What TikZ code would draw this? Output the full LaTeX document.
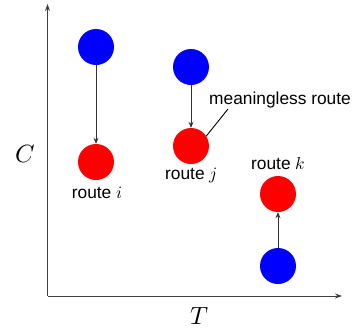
\documentclass[tikz,border=0pt]{standalone}
\usepackage{fontspec}
\setmainfont{Liberation Sans}
\usepackage{unicode-math}
\setmathfont{Latin Modern Math}
\usetikzlibrary{arrows.meta}
\begin{document}
\begin{tikzpicture}[x=1bp,y=-1bp,
  dot/.style={circle,minimum size=36bp,inner sep=0pt},
  bdot/.style={dot,fill=blue},
  rdot/.style={dot,fill=red},
  lab/.style={font=\fontsize{17.4}{20}\selectfont,inner sep=0pt},
  axlab/.style={font=\fontsize{25}{28}\selectfont,inner sep=0pt},
  conn/.style={draw=black!80,line width=0.9bp,-{Stealth[length=6bp,width=5bp]}},
  axis/.style={draw=black!75,line width=1bp,-{Stealth[length=7bp,width=5bp]}}]
\useasboundingbox (0,0) rectangle (356,329);
\coordinate (o) at (47.5,296);
\coordinate (ytop) at (47.5,4);
\coordinate (xend) at (342,296);
\draw[axis] (o) -- (ytop);
\draw[axis] (o) -- (xend);
\node[axlab] (C) at (25,154) {$C$};
\node[axlab] (T) at (200,316) {$T$};
\node[bdot] (bi) at (96,47) {};
\node[rdot] (ri) at (96,162) {};
\node[bdot] (bj) at (191,67) {};
\node[rdot] (rj) at (191,146) {};
\node[rdot] (rk) at (278,194) {};
\node[bdot] (bk) at (278,266) {};
\draw[conn] (bi) -- (ri);
\draw[conn] (bj) -- (rj);
\draw[conn] (bk) -- (rk);
\node[lab] (li) at (97,193) {route $i$};
\node[lab] (lj) at (191,176) {route $j$};
\node[lab] (lk) at (278,164) {route $k$};
\node[lab] (lm) at (280,100) {meaningless route};
\coordinate (mtip) at (228,109);
\draw[line width=0.9bp] (rj.33) -- (mtip);
\end{tikzpicture}
\end{document}
